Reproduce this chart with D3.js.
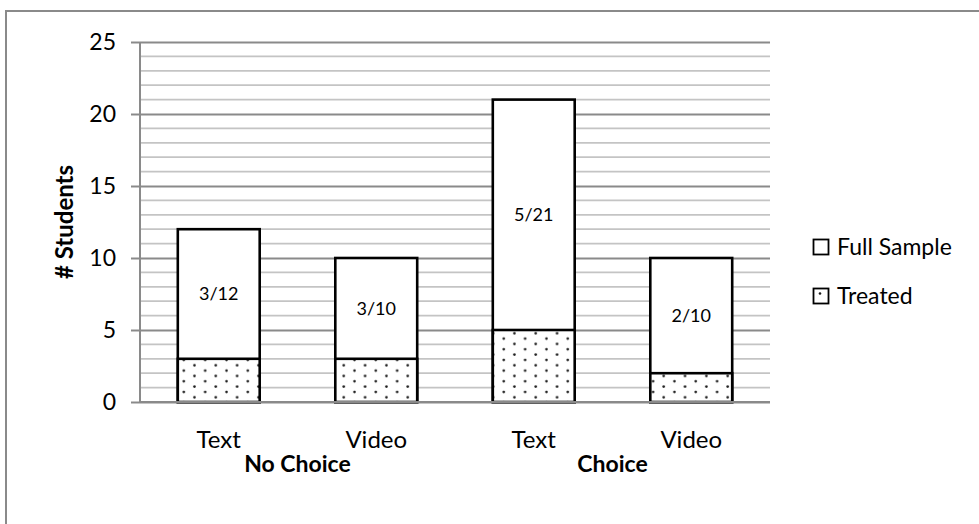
<!DOCTYPE html>
<html>
<head>
<meta charset="utf-8">
<script src="https://cdn.jsdelivr.net/npm/d3@7"></script>
<style>
  html, body { margin: 0; padding: 0; background: #fff; }
  svg { display: block; }
  text { font-family: Lato, "Open Sans", sans-serif; fill: #000; }
</style>
</head>
<body>
<svg id="chart" width="979" height="524"></svg>
<script>
// Students per condition
const conditions = ["Text", "Video", "Text", "Video"];
const groups = ["No Choice", "No Choice", "Choice", "Choice"];
const fullSample = [12, 10, 21, 10];
const treated = [3, 3, 5, 2];
const yTicks = [0, 5, 10, 15, 20, 25];
const legendLabels = ["Full Sample", "Treated"];

const svg = d3.select("#chart");
const W = 979, H = 524;
const plot = { left: 140, right: 770, top: 42, bottom: 402 };

// Outer frame (only top and left edges fall inside the view)
svg.append("path")
  .attr("d", `M6,${H} V11 H${W}`)
  .attr("fill", "none").attr("stroke", "#8a8a8a").attr("stroke-width", 2);

const idx = d3.range(conditions.length);
const x = d3.scaleBand().domain(idx).range([plot.left, plot.right]).paddingInner(0.48).paddingOuter(0.24);
const y = d3.scaleLinear().domain([0, 25]).range([plot.bottom, plot.top]);

// Dot fill for the treated part
const defs = svg.append("defs");
const pat = defs.append("pattern")
  .attr("id", "dots").attr("patternUnits", "userSpaceOnUse")
  .attr("width", 21.33).attr("height", 10.67);
pat.append("rect").attr("width", 21.33).attr("height", 10.67).attr("fill", "#fff");
[[2.5, 2.5], [13.2, 7.8]].forEach(([cx, cy]) =>
  pat.append("circle").attr("cx", cx).attr("cy", cy).attr("r", 1.3).attr("fill", "#1a1a1a"));

// Gridlines: minor every unit, major every 5
const minor = d3.range(1, 25).filter(v => v % 5 !== 0);
svg.append("g").selectAll("line").data(minor).join("line")
  .attr("x1", plot.left).attr("x2", plot.right)
  .attr("y1", d => y(d)).attr("y2", d => y(d))
  .attr("stroke", "#c4c4c4").attr("stroke-width", 1.8);

const yAxis = d3.axisLeft(y).tickValues(yTicks).tickSize(9).tickPadding(15);
const gy = svg.append("g").attr("transform", `translate(${plot.left},0)`).call(yAxis);
gy.select(".domain").attr("stroke", "#8a8a8a").attr("stroke-width", 2).attr("d", `M0,${plot.bottom}V${plot.top}`);
gy.selectAll(".tick line").attr("stroke", "#8a8a8a").attr("stroke-width", 2);
gy.selectAll(".tick text").attr("font-size", 23).attr("font-family", "Lato, sans-serif").attr("fill", "#000");
gy.selectAll(".tick").append("line")
  .attr("x1", 0).attr("x2", plot.right - plot.left)
  .attr("stroke", "#8a8a8a").attr("stroke-width", 2);

// Full sample bars
svg.append("g").selectAll("rect").data(idx).join("rect")
  .attr("x", i => x(i)).attr("width", x.bandwidth())
  .attr("y", i => y(fullSample[i])).attr("height", i => y(0) - y(fullSample[i]))
  .attr("fill", "#fff").attr("stroke", "#000").attr("stroke-width", 2.6);

// Treated bars
svg.append("g").selectAll("rect").data(idx).join("rect")
  .attr("x", i => x(i)).attr("width", x.bandwidth())
  .attr("y", i => y(treated[i])).attr("height", i => y(0) - y(treated[i]))
  .attr("fill", "url(#dots)").attr("stroke", "#000").attr("stroke-width", 2.6);

// Baseline
svg.append("line").attr("x1", plot.left).attr("x2", plot.right)
  .attr("y1", y(0)).attr("y2", y(0)).attr("stroke", "#8a8a8a").attr("stroke-width", 2);

// Ratio labels in the upper segment
svg.append("g").selectAll("text").data(idx).join("text")
  .attr("x", i => x(i) + x.bandwidth() / 2)
  .attr("y", i => y((fullSample[i] + treated[i]) / 2))
  .attr("dy", "0.35em").attr("text-anchor", "middle").attr("font-size", 18)
  .text(i => `${treated[i]}/${fullSample[i]}`);

// Category labels
svg.append("g").selectAll("text").data(idx).join("text")
  .attr("x", i => x(i) + x.bandwidth() / 2).attr("y", 448)
  .attr("text-anchor", "middle").attr("font-size", 24)
  .text(i => conditions[i]);

// Group labels
const groupNames = Array.from(new Set(groups));
svg.append("g").selectAll("text").data(groupNames).join("text")
  .attr("x", g => d3.mean(idx.filter(i => groups[i] === g), i => x(i) + x.bandwidth() / 2))
  .attr("y", 472).attr("text-anchor", "middle").attr("font-size", 23).attr("font-weight", "bold")
  .text(g => g);

// Y axis title
svg.append("text")
  .attr("transform", `translate(73,${(plot.top + plot.bottom) / 2}) rotate(-90)`)
  .attr("text-anchor", "middle").attr("font-size", 24).attr("font-weight", "bold")
  .text("# Students");

// Legend
const lg = svg.append("g").selectAll("g").data(legendLabels).join("g")
  .attr("transform", (d, i) => `translate(813,${247 + i * 49})`);
lg.append("rect").attr("x", 0.5).attr("y", -7.5).attr("width", 15).attr("height", 15)
  .attr("fill", "#fff").attr("stroke", "#000").attr("stroke-width", 1.8);
lg.filter((d, i) => i === 1).append("circle").attr("cx", 7).attr("cy", -2.5).attr("r", 1.3).attr("fill", "#1a1a1a");
lg.append("text").attr("x", 24).attr("dy", "0.36em").attr("font-size", 23).text(d => d);
</script>
</body>
</html>
